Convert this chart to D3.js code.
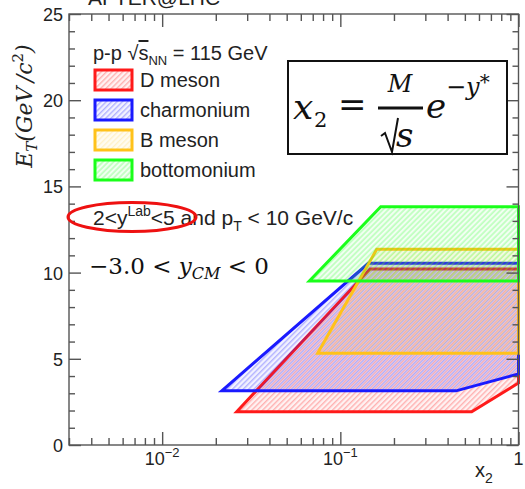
<!DOCTYPE html>
<html>
<head>
<meta charset="utf-8">
<script src="https://cdn.jsdelivr.net/npm/d3@7/dist/d3.min.js"></script>
<style>
  html, body { margin: 0; padding: 0; background: #fff; }
  svg { display: block; }
  .sans { font-family: "Liberation Sans", Arial, sans-serif; }
  .math { font-family: "DejaVu Serif", serif; }
</style>
</head>
<body>
<div id="chart"></div>
<script>
// ---------- data ----------
const seriesNames = ["D meson", "charmonium", "B meson", "bottomonium"];
const seriesColors = ["#ff1a1a", "#1a1aff", "#ffc21a", "#1aff1a"];
// polygon vertices: [x2, E_T (GeV/c^2)]
const dMeson      = [[0.0262, 1.93], [0.1468, 10.21], [1, 10.21], [1, 3.6], [0.546, 1.93]];
const charmonium  = [[0.0216, 3.14], [0.1436, 10.54], [1, 10.54], [1, 4.12], [0.446, 3.14]];
const bMeson      = [[0.0746, 5.32], [0.160, 11.35], [1, 11.35], [1, 5.32]];
const bottomonium = [[0.0670, 9.51], [0.1686, 13.82], [1, 13.82], [1, 9.51]];
const polygons = [dMeson, charmonium, bMeson, bottomonium];
const xDomain = [0.003, 1];
const yDomain = [0, 25];
const yMajorTicks = [0, 5, 10, 15, 20, 25];
const xMajorTicks = [0.01, 0.1, 1];
const xMajorLabels = [["10", "\u22122"], ["10", "\u22121"], ["1", ""]];

// ---------- layout ----------
const W = 525, H = 489;
const L = 69, R = 518.5, T = 14, B = 445;

const svg = d3.select("#chart").append("svg").attr("width", W).attr("height", H);
const defs = svg.append("defs");

const x = d3.scaleLog().domain(xDomain).range([L, R]);
const y = d3.scaleLinear().domain(yDomain).range([B, T]);

// hatch patterns (lines offset per series so overlaps blend)
const hatchOpacity = [0.3, 0.3, 0.2, 0.3];
const hatchOffset = [0.7, 2.6, 1.6, 1.0];
seriesColors.forEach((c, i) => {
  const s = 3.8;
  const p = defs.append("pattern")
    .attr("id", "hatch" + i)
    .attr("patternUnits", "userSpaceOnUse")
    .attr("width", s).attr("height", s)
    .attr("patternTransform", "rotate(45)");
  p.append("rect").attr("width", s).attr("height", s).attr("fill", c).attr("fill-opacity", 0.06);
  p.append("line").attr("x1", hatchOffset[i]).attr("y1", 0).attr("x2", hatchOffset[i]).attr("y2", s)
    .attr("stroke", c).attr("stroke-width", 1.4).attr("stroke-opacity", hatchOpacity[i]);
});

// title (cut at top, as in the original figure)
svg.append("text").attr("class", "sans").attr("x", 88).attr("y", 5)
  .attr("font-size", 21).attr("fill", "#222").text("AFTER@LHC");

// polygons
const line = d3.line().x(d => x(d[0])).y(d => y(d[1]));
polygons.forEach((poly, i) => {
  svg.append("path").attr("d", line(poly) + "Z")
    .attr("fill", "url(#hatch" + i + ")")
    .attr("stroke", seriesColors[i]).attr("stroke-width", 3)
    .attr("stroke-linejoin", "miter");
});

// frame
const axisColor = "#555";
svg.append("rect").attr("x", L).attr("y", T).attr("width", R - L).attr("height", B - T)
  .attr("fill", "none").attr("stroke", axisColor).attr("stroke-width", 1.4);

// y ticks
const yMinor = d3.range(0, 26).filter(v => v % 5 !== 0);
function yAxisGroup(axisFn, tx, major, size, fmt) {
  const g = svg.append("g").attr("transform", `translate(${tx},0)`)
    .call(axisFn(y).tickValues(major).tickSize(size).tickPadding(6).tickFormat(fmt));
  g.select(".domain").remove();
  g.selectAll(".tick line").attr("stroke", axisColor).attr("stroke-width", 1.4);
  g.selectAll("text").attr("class", "sans").attr("font-size", 18).attr("fill", "#222")
    .attr("dy", "0.36em");
  return g;
}
yAxisGroup(d3.axisLeft, L, yMajorTicks, -12, d3.format("d"));
yAxisGroup(d3.axisLeft, L, yMinor, -6, "");
yAxisGroup(d3.axisRight, R, yMajorTicks, -12, "");
yAxisGroup(d3.axisRight, R, yMinor, -6, "");

// x ticks
const xMinor = [];
[0.001, 0.01, 0.1].forEach(d => { for (let k = 2; k <= 9; k++) { const v = d * k; if (v >= 0.003 - 1e-9 && v < 1) xMinor.push(v); } });
function xAxisGroup(axisFn, ty, vals, size) {
  const g = svg.append("g").attr("transform", `translate(0,${ty})`)
    .call(axisFn(x).tickValues(vals).tickSize(size).tickFormat(""));
  g.select(".domain").remove();
  g.selectAll(".tick line").attr("stroke", axisColor).attr("stroke-width", 1.4);
  return g;
}
xAxisGroup(d3.axisBottom, B, xMajorTicks, -13);
xAxisGroup(d3.axisBottom, B, xMinor, -7);
xAxisGroup(d3.axisTop, T, xMajorTicks, -13);
xAxisGroup(d3.axisTop, T, xMinor, -7);

// x tick labels
xMajorTicks.forEach((v, i) => {
  const t = svg.append("text").attr("class", "sans").attr("x", x(v)).attr("y", 465)
    .attr("font-size", 18).attr("fill", "#222").attr("text-anchor", "middle");
  t.append("tspan").text(xMajorLabels[i][0]);
  if (xMajorLabels[i][1]) t.append("tspan").attr("dy", -8).attr("font-size", 13).text(xMajorLabels[i][1]);
});

// x axis title
const xt = svg.append("text").attr("class", "sans").attr("x", 475).attr("y", 477)
  .attr("font-size", 20).attr("fill", "#222");
xt.append("tspan").text("x");
xt.append("tspan").attr("dy", 6).attr("font-size", 14).text("2");

// y axis title
const yt = svg.append("text").attr("class", "math")
  .attr("transform", "translate(32,106) rotate(-90)")
  .attr("text-anchor", "middle").attr("font-size", 22).attr("fill", "#222");
yt.append("tspan").attr("font-style", "italic").text("E");
yt.append("tspan").attr("font-style", "italic").attr("font-size", 15).attr("dy", 5).text("T");
yt.append("tspan").attr("font-style", "italic").attr("dy", -5).text("(GeV\u2009/c");
yt.append("tspan").attr("font-size", 15).attr("dy", -9).text("2");
yt.append("tspan").attr("font-style", "italic").attr("dy", 9).text(")");

// legend header
const lh = svg.append("text").attr("class", "sans").attr("x", 93).attr("y", 60)
  .attr("font-size", 20).attr("fill", "#222");
lh.append("tspan").text("p-p ");
lh.append("tspan").text("\u221A").attr("font-size", 20);
lh.append("tspan").attr("text-decoration", "overline").text("s");
lh.append("tspan").attr("font-size", 13).attr("dy", 5).text("NN");
lh.append("tspan").attr("dy", -5).text(" = 115 GeV");

// legend entries
seriesNames.forEach((name, i) => {
  const yy = 70 + i * 30;
  svg.append("rect").attr("x", 95).attr("y", yy).attr("width", 37).attr("height", 20)
    .attr("fill", "url(#hatch" + i + ")").attr("stroke", seriesColors[i]).attr("stroke-width", 3);
  svg.append("text").attr("class", "sans").attr("x", 140).attr("y", yy + 17)
    .attr("font-size", 20).attr("fill", "#222").text(name);
});

// cut text
const ct = svg.append("text").attr("class", "sans").attr("x", 93).attr("y", 225)
  .attr("font-size", 21).attr("fill", "#222");
ct.append("tspan").text("2<y");
ct.append("tspan").attr("font-size", 14).attr("dy", -9).text("Lab");
ct.append("tspan").attr("dy", 9).text("<5 and p");
ct.append("tspan").attr("font-size", 14).attr("dy", 6).text("T");
ct.append("tspan").attr("dy", -6).text(" < 10 GeV/c");

// red ellipse
svg.append("ellipse").attr("cx", 132).attr("cy", 217).attr("rx", 64).attr("ry", 14.5)
  .attr("fill", "none").attr("stroke", "#ee1111").attr("stroke-width", 3);

// rapidity text
const rt = svg.append("text").attr("class", "math").attr("x", 89).attr("y", 274)
  .attr("font-size", 23).attr("fill", "#111");
rt.append("tspan").text("\u22123.0 < ");
rt.append("tspan").attr("font-style", "italic").text("y");
rt.append("tspan").attr("font-style", "italic").attr("font-size", 16).attr("dy", 5).text("CM");
rt.append("tspan").attr("dy", -5).text(" < 0");

// formula box
svg.append("rect").attr("x", 288).attr("y", 61).attr("width", 219).attr("height", 93)
  .attr("fill", "#fff").attr("stroke", "#111").attr("stroke-width", 2);
const fm = svg.append("g").attr("class", "math").attr("fill", "#111");
fm.append("text").attr("x", 293).attr("y", 119).attr("font-size", 36).attr("font-style", "italic").text("x");
fm.append("text").attr("x", 314).attr("y", 127).attr("font-size", 21).text("2");
fm.append("text").attr("x", 338).attr("y", 116).attr("font-size", 34).text("=");
fm.append("line").attr("x1", 378).attr("x2", 423).attr("y1", 108).attr("y2", 108)
  .attr("stroke", "#111").attr("stroke-width", 3);
fm.append("text").attr("x", 400).attr("y", 92).attr("font-size", 24).attr("font-style", "italic")
  .attr("text-anchor", "middle").text("M");
fm.append("path").attr("d", "M381,136 L385,133 L392,152 L398,118")
  .attr("fill", "none").attr("stroke", "#111").attr("stroke-width", 2);
fm.append("text").attr("x", 396).attr("y", 147).attr("font-size", 34).attr("font-style", "italic").text("s");
fm.append("text").attr("x", 426).attr("y", 118).attr("font-size", 34).attr("font-style", "italic").text("e");
const sup = fm.append("text").attr("x", 446).attr("y", 95).attr("font-size", 24);
sup.append("tspan").text("\u2212");
sup.append("tspan").attr("font-style", "italic").text("y");
sup.append("tspan").attr("font-size", 20).attr("dy", -6).text("*");
</script>
</body>
</html>
